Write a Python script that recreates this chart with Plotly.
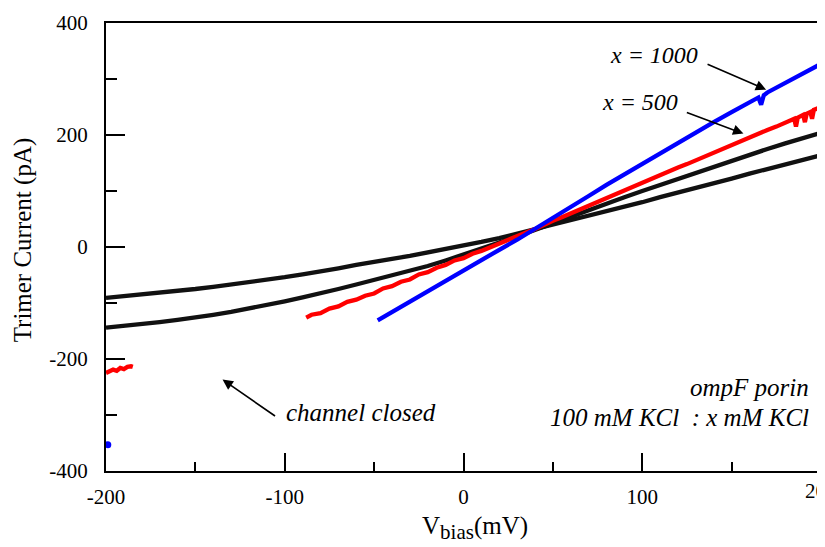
import plotly.graph_objects as go

# ---------------- data ----------------
v_black = [-200, -190, -180, -170, -160, -150, -140, -130, -120, -110, -100, -90, -80, -70, -60,
           -50, -40, -30, -20, -10, 0, 10, 20, 30, 40, 50, 60, 70, 80, 90, 100, 110, 120, 130,
           140, 150, 160, 170, 180, 190, 200]
i_black_shallow = [-91, -88, -85, -82, -78, -75, -71, -67, -63, -58, -54, -49, -44, -38, -32,
                   -26, -21, -16, -10, -3, 2, 9, 16, 24, 31, 39, 47, 56, 64, 72, 80, 89, 97, 106,
                   114, 122, 131, 139, 147, 156, 164]
i_black_steep = [-144, -141, -137, -134, -130, -126, -121, -116, -110, -104, -97, -90, -83, -75, -67,
                 -59, -51, -43, -34, -24, -14, -3, 8, 19, 31, 43, 54, 66, 78, 89, 100, 111, 122, 133,
                 144, 154, 164, 175, 185, 195, 204]

v_red = [-88, -85, -80, -75, -70, -65, -60, -55, -50, -45, -40, -35, -30, -25, -20, -15, -10, -5,
         0, 5, 10, 15, 20, 25, 30, 35, 40, 45, 50, 55, 60, 65, 70, 75, 80, 85, 90, 95, 100, 105,
         110, 115, 120, 125, 130, 135, 140, 145, 150, 155, 160, 165, 170, 175, 180, 185, 186, 187,
         190, 191, 192, 194, 195, 196, 200]
i_red = [-126, -121, -118, -110, -106, -98, -94, -87, -83, -74, -70, -62, -58, -49, -45, -37, -32, -24,
         -20, -12, -7, 0, 6, 12, 19, 26, 32, 40, 47, 53, 60, 67, 74, 81, 88, 94, 101, 108, 115, 121,
         128, 135, 142, 148, 155, 161, 168, 175, 182, 188, 195, 202, 209, 215, 222, 229, 215, 231,
         236, 223, 238, 241, 229, 245, 250]

v_red_closed = [-200, -198, -196, -194, -192, -190, -188, -186, -185]
i_red_closed = [-225, -221, -219, -221, -216, -218, -214, -213, -214]

v_blue = [-48, -40, -30, -20, -10, 0, 10, 20, 30, 40, 50, 60, 70, 80, 90, 100, 110, 120, 130,
          140, 150, 160, 165, 166.5, 168, 170, 180, 190, 200]
i_blue = [-131, -116, -98, -80, -61, -43, -24, -5, 13, 32, 52, 72, 91, 111, 130, 149, 168, 187, 205,
          223, 241, 259, 267, 254, 271, 276, 293, 310, 327]

v_blue_closed = [-199]
i_blue_closed = [-353]

x_ticks = [-200, -100, 0, 100, 200]
x_tick_labels = ["-200", "-100", "0", "100", ""]   # the "200" label is cut by the page edge
x_edge_label = "200"
y_ticks = [-400, -200, 0, 200, 400]
y_tick_labels = ["-400", "-200", "0", "200", "400"]

# ---------------- figure ----------------
FONT = "Liberation Serif"
LW = 4.3

fig = go.Figure()
fig.add_trace(go.Scatter(x=v_black, y=i_black_shallow, mode="lines",
                         line=dict(color="#111111", width=LW)))
fig.add_trace(go.Scatter(x=v_black, y=i_black_steep, mode="lines",
                         line=dict(color="#111111", width=LW)))
fig.add_trace(go.Scatter(x=v_red, y=i_red, mode="lines",
                         line=dict(color="#ff0000", width=LW)))
fig.add_trace(go.Scatter(x=v_red_closed, y=i_red_closed, mode="lines",
                         line=dict(color="#ff0000", width=LW)))
fig.add_trace(go.Scatter(x=v_blue, y=i_blue, mode="lines",
                         line=dict(color="#0000ff", width=LW)))
fig.add_trace(go.Scatter(x=v_blue_closed, y=i_blue_closed, mode="markers",
                         marker=dict(color="#0000ff", size=7)))

TICK_SIZE = 21
axis_common = dict(
    showgrid=False, zeroline=False, showline=True, linecolor="black", linewidth=2,
    mirror=True, ticks="inside", tickcolor="black", tickwidth=1.5, automargin=False,
    tickfont=dict(family=FONT, size=TICK_SIZE, color="black"),
)
fig.update_xaxes(range=[-200, 200], tickvals=x_ticks, ticktext=x_tick_labels, ticklen=18,
                 minor=dict(dtick=50, ticks="inside", ticklen=9, tickcolor="black", tickwidth=1.5),
                 ticklabelstandoff=6, **axis_common)
fig.update_yaxes(range=[-400, 400], tickvals=y_ticks, ticktext=y_tick_labels, ticklen=19,
                 minor=dict(dtick=100, ticks="inside", ticklen=11, tickcolor="black", tickwidth=1.5),
                 ticklabelstandoff=12, **axis_common)

ann = []
txt_font = dict(family=FONT, size=24, color="black")
big_font = dict(family=FONT, size=25, color="black")
ann.append(dict(x=106.8, y=342, xref="x", yref="y", text="<i>x = 1000</i>", showarrow=False,
                font=txt_font, xanchor="center", yanchor="middle"))
ann.append(dict(x=99, y=259, xref="x", yref="y", text="<i>x = 500</i>", showarrow=False,
                font=txt_font, xanchor="center", yanchor="middle"))
ann.append(dict(x=-100.6, y=-295, xref="x", yref="y", text="<i>channel closed</i>", showarrow=False,
                font=big_font, xanchor="left", yanchor="middle"))
ann.append(dict(x=194.4, y=-251, xref="x", yref="y", text="<i>ompF porin</i>", showarrow=False,
                font=big_font, xanchor="right", yanchor="middle"))
ann.append(dict(x=194.4, y=-303.6, xref="x", yref="y",
                text="<i>100 mM KCl \u00a0: x mM KCl</i>", showarrow=False,
                font=big_font, xanchor="right", yanchor="middle"))
# arrows
for (hx, hy, tx, ty) in [(169.3, 281, 135.7, 327.5),
                         (156.6, 202.5, 124.1, 241),
                         (-134.8, -236.8, -104.6, -303.6)]:
    ann.append(dict(x=hx, y=hy, ax=tx, ay=ty, xref="x", yref="y", axref="x", ayref="y",
                    text="", showarrow=True, arrowhead=2, arrowsize=1.3, arrowwidth=1.6,
                    arrowcolor="black"))
# cut-off "200" label at the right edge
ann.append(dict(x=1.0, y=-0.045, xref="paper", yref="paper", text=x_edge_label, showarrow=False,
                font=dict(family=FONT, size=TICK_SIZE, color="black"),
                xanchor="center", yanchor="middle"))
# axis titles
ann.append(dict(x=0.516, y=-0.128, xref="paper", yref="paper",
                text="V<sub><span style='font-size:21px'>bias</span></sub>(mV)", showarrow=False,
                font=dict(family=FONT, size=25, color="black"), xanchor="center", yanchor="middle"))
ann.append(dict(x=-0.116, y=0.515, xref="paper", yref="paper",
                text="Trimer Current (pA)", showarrow=False, textangle=-90,
                font=dict(family=FONT, size=25, color="black"), xanchor="center", yanchor="middle"))

# page body has an 8px margin, so the figure is sized to fit the window
fig.update_layout(
    width=817, height=539,
    margin=dict(l=98, r=4, t=15, b=76),
    paper_bgcolor="white", plot_bgcolor="white",
    showlegend=False,
    annotations=ann,
)

fig.write_html("out.html")
